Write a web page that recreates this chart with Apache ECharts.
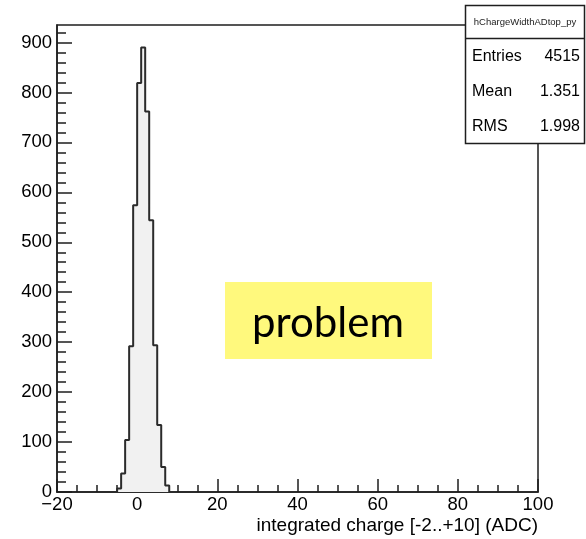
<!DOCTYPE html>
<html>
<head>
<meta charset="utf-8">
<script src="https://cdn.jsdelivr.net/npm/echarts@6/dist/echarts.min.js"></script>
<style>
  html, body { margin: 0; padding: 0; background: #fff; }
  #chart { width: 586px; height: 539px; }
</style>
</head>
<body>
<div id="chart"></div>
<script>
// Histogram bins: lower edge (ADC) and bin contents
const binLowEdges = [-5, -4, -3, -2, -1, 0, 1, 2, 3, 4, 5, 6, 7];
const binCounts   = [7, 37, 104, 292, 574, 819, 890, 762, 544, 294, 134, 50, 13];
const binWidth = 1;

// Axis ticks
const xTicks = [-20, 0, 20, 40, 60, 80, 100];
const yTicks = [0, 100, 200, 300, 400, 500, 600, 700, 800, 900];
const yMinorTicks = [20, 40, 60, 80, 120, 140, 160, 180, 220, 240, 260, 280,
  320, 340, 360, 380, 420, 440, 460, 480, 520, 540, 560, 580, 620, 640, 660, 680,
  720, 740, 760, 780, 820, 840, 860, 880, 920];

// Statistics box contents
const statsName = 'hChargeWidthADtop_py';
const statsLabels = ['Entries', 'Mean', 'RMS'];
const statsValues = ['4515', '1.351', '1.998'];

// Step outline: start at the baseline, one point per bin, close at the last edge
const stepPoints = [[binLowEdges[0], 0]];
binLowEdges.forEach((x, i) => stepPoints.push([x, binCounts[i]]));
stepPoints.push([binLowEdges[binLowEdges.length - 1] + binWidth, 0]);

const FONT = 'Liberation Sans, Arial, sans-serif';
const INK = '#1e1e1e';

const chart = echarts.init(document.getElementById('chart'), null, { renderer: 'canvas' });

const statsGraphics = [
  { type: 'rect', shape: { x: 465.5, y: 5.5, width: 119, height: 138 },
    style: { fill: '#fff', stroke: INK, lineWidth: 1.5 }, z: 100 },
  { type: 'line', shape: { x1: 465.5, y1: 38.5, x2: 584.5, y2: 38.5 },
    style: { stroke: INK, lineWidth: 1.5 }, z: 101 },
  { type: 'text', x: 525, y: 22, z: 101,
    style: { text: statsName, font: '9.5px ' + FONT, fill: '#222', align: 'center', verticalAlign: 'middle' } }
];
const rowY = [57, 92, 127];
statsLabels.forEach((lab, i) => {
  statsGraphics.push({ type: 'text', x: 472, y: rowY[i], z: 101,
    style: { text: lab, font: '16px ' + FONT, fill: '#000', align: 'left', verticalAlign: 'middle' } });
  statsGraphics.push({ type: 'text', x: 580, y: rowY[i], z: 101,
    style: { text: statsValues[i], font: '16px ' + FONT, fill: '#000', align: 'right', verticalAlign: 'middle' } });
});

const option = {
  backgroundColor: '#fff',
  animation: false,
  grid: {
    left: 57, top: 25, right: 48, bottom: 47,
    show: true, borderColor: INK, borderWidth: 1.5, backgroundColor: 'transparent'
  },
  xAxis: {
    type: 'value',
    min: -20, max: 100, interval: 20,
    name: 'integrated charge [-2..+10] (ADC)',
    nameLocation: 'end',
    nameGap: 0,
    nameTextStyle: {
      fontFamily: FONT, fontSize: 19, color: '#000',
      align: 'right', verticalAlign: 'top', padding: [24, 0, 0, 0]
    },
    axisLine: { show: true, onZero: false, lineStyle: { color: INK, width: 1.5 } },
    axisTick: { show: true, inside: true, length: 13, lineStyle: { color: INK, width: 1.5 } },
    minorTick: { show: true, splitNumber: 4, length: 7, lineStyle: { color: INK, width: 1.5 } },
    splitLine: { show: false },
    axisLabel: {
      fontFamily: FONT, fontSize: 18.5, color: '#000', margin: 3,
      customValues: xTicks,
      formatter: v => (v < 0 ? '\u2212' + Math.abs(v) : String(v))
    }
  },
  yAxis: [
    {
      type: 'value',
      min: 0, max: 935, interval: 100,
      axisLine: { show: true, onZero: false, lineStyle: { color: INK, width: 1.5 } },
      axisTick: { show: true, inside: true, length: 15, customValues: yTicks,
        lineStyle: { color: INK, width: 1.5 } },
      splitLine: { show: false },
      axisLabel: {
        fontFamily: FONT, fontSize: 18.5, color: '#000', margin: 5,
        customValues: yTicks
      }
    },
    {
      // minor ticks of the vertical axis
      type: 'value',
      position: 'left',
      min: 0, max: 935,
      axisLine: { show: false, onZero: false },
      axisTick: { show: true, inside: true, length: 9, customValues: yMinorTicks,
        lineStyle: { color: INK, width: 1.5 } },
      splitLine: { show: false },
      axisLabel: { show: false }
    }
  ],
  series: [{
    type: 'line',
    xAxisIndex: 0,
    yAxisIndex: 0,
    step: 'end',
    data: stepPoints,
    showSymbol: false,
    symbol: 'none',
    lineStyle: { color: '#2b2b2b', width: 2 },
    areaStyle: { color: '#f1f1f1', opacity: 1 },
    z: 2
  }],
  graphic: [
    ...statsGraphics,
    { type: 'rect', shape: { x: 225, y: 282, width: 207, height: 77 },
      style: { fill: '#fff97d' }, z: 110 },
    { type: 'text', x: 328, y: 323, z: 111,
      style: { text: 'problem', font: '42px Lato, "Open Sans", sans-serif', fill: '#000',
        align: 'center', verticalAlign: 'middle' } }
  ]
};

chart.setOption(option);
</script>
</body>
</html>
